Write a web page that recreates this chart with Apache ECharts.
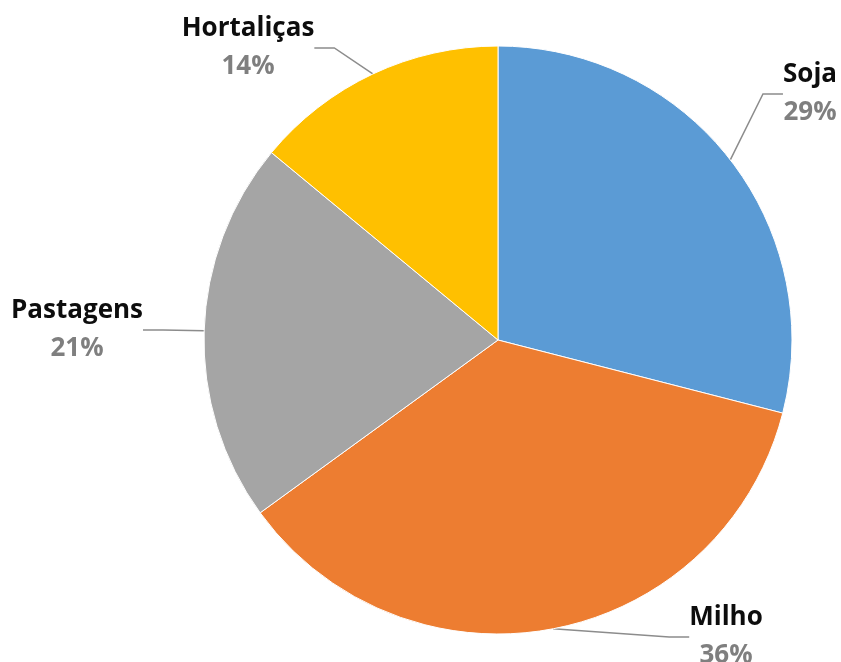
<!DOCTYPE html>
<html>
<head>
<meta charset="utf-8">
<script src="https://cdn.jsdelivr.net/npm/echarts@6/dist/echarts.min.js"></script>
<style>html,body{margin:0;padding:0;background:#fff;}#c{width:841px;height:662px;}</style>
</head>
<body>
<div id="c"></div>
<script>
const categories = ['Soja', 'Milho', 'Pastagens', 'Hortaliças'];
const values = [29, 36, 21, 14];
const percentLabels = ['29%', '36%', '21%', '14%'];
const colors = ['#5B9BD5', '#ED7D31', '#A5A5A5', '#FFC000'];
// label anchor positions (text centres)
const labelPos = [[810, 94], [726, 637], [77, 330], [248, 48]];

const chart = echarts.init(document.getElementById('c'));
chart.setOption({
  animation: false,
  backgroundColor: '#ffffff',
  series: [{
    type: 'pie',
    center: [498, 340],
    radius: 294,
    startAngle: 90,
    clockwise: true,
    data: categories.map((c, i) => ({
      name: c, value: values[i],
      itemStyle: { color: colors[i] },
      label: { formatter: '{n|' + c + '}\n{p|' + percentLabels[i] + '}' }
    })),
    itemStyle: { borderColor: '#ffffff', borderWidth: 1 },
    label: {
      show: true,
      position: 'outside',
      align: 'center',
      rich: {
        n: { fontFamily: 'Open Sans', fontWeight: 'bold', fontSize: 26, color: '#0d0d0d', lineHeight: 38, align: 'center' },
        p: { fontFamily: 'Open Sans', fontWeight: 'bold', fontSize: 26, color: '#7f7f7f', lineHeight: 38, align: 'center' }
      }
    },
    labelLine: { show: true, length: 20, length2: 20, lineStyle: { color: '#8c8c8c', width: 1.5 } },
    labelLayout: function (p) {
      const pos = labelPos[p.dataIndex];
      return { x: pos[0], y: pos[1], align: 'center', verticalAlign: 'middle' };
    }
  }]
});
</script>
</body>
</html>
